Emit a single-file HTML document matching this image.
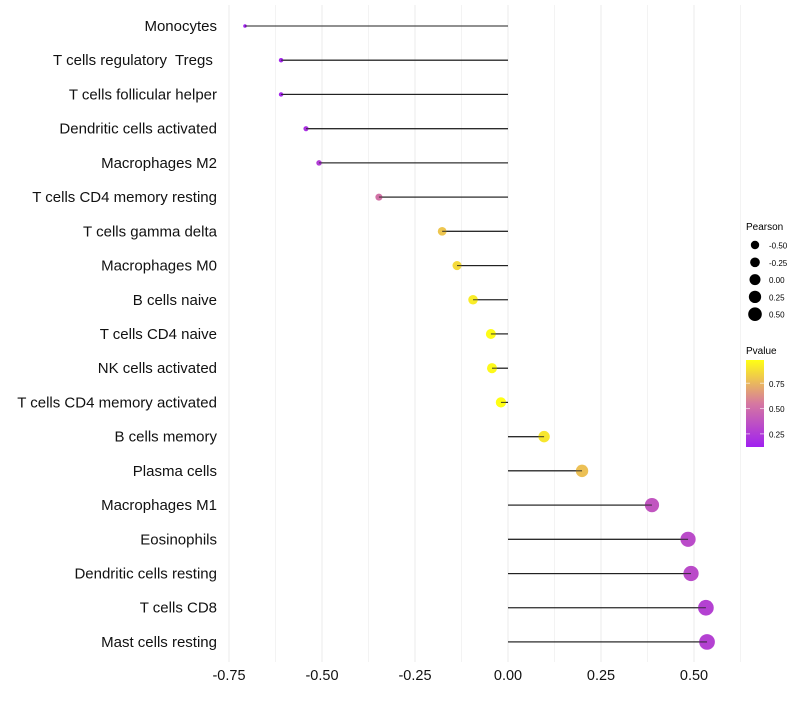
<!DOCTYPE html>
<html><head><meta charset="utf-8"><style>
body{margin:0;background:#fff;font-family:"Liberation Sans",sans-serif}
svg text{font-family:"Liberation Sans",sans-serif}
</style></head><body>
<svg id="c" width="800" height="700"></svg>
<script>
const categories=["Monocytes","T cells regulatory  Tregs ","T cells follicular helper","Dendritic cells activated","Macrophages M2","T cells CD4 memory resting","T cells gamma delta","Macrophages M0","B cells naive","T cells CD4 naive","NK cells activated","T cells CD4 memory activated","B cells memory","Plasma cells","Macrophages M1","Eosinophils","Dendritic cells resting","T cells CD8","Mast cells resting"];
const pearson=[-0.707,-0.61,-0.61,-0.543,-0.508,-0.347,-0.177,-0.137,-0.094,-0.046,-0.043,-0.019,0.097,0.199,0.387,0.484,0.492,0.532,0.535];
const pvalue=[0.12,0.14,0.14,0.2,0.26,0.52,0.8,0.86,0.92,0.97,0.96,0.99,0.9,0.78,0.38,0.33,0.33,0.28,0.28];
const xTicks=[-0.75,-0.5,-0.25,0,0.25,0.5];
const xTickLabels=["-0.75","-0.50","-0.25","0.00","0.25","0.50"];
const sizeLegend=[-0.5,-0.25,0,0.25,0.5];
const sizeLegendLabels=["-0.50","-0.25","0.00","0.25","0.50"];
const colorLegend=[0.25,0.5,0.75];
const colorLegendLabels=["0.25","0.50","0.75"];
const svg=document.getElementById('c');const NS="http://www.w3.org/2000/svg";
function el(t,a,p){const e=document.createElementNS(NS,t);for(const k in a)e.setAttribute(k,a[k]);(p||svg).appendChild(e);return e;}
const x=v=>508+v*372;
const y=i=>26+i*34.22;
const r=v=>1.7+(v+0.72)*4.9;
function col(p){const t=Math.max(0,Math.min(1,(p-0.12)/(0.98-0.12)));
const a=[160,32,240],m=[214,120,160],b=[255,255,20];let c;
if(t<0.5){const s=t*2;c=a.map((v,k)=>v+(m[k]-v)*s);}else{const s=(t-0.5)*2;c=m.map((v,k)=>v+(b[k]-v)*s);}
return `rgb(${c.map(Math.round).join(',')})`;}
for(let v=-0.75;v<=0.626;v+=0.125){const g=el('line',{x1:x(v),x2:x(v),y1:5,y2:662,stroke:'#ebebeb','stroke-width':Math.abs(v*8-Math.round(v*8))<1e-6&&Math.round(v*8)%2===0?1:0.6});
}
xTicks.forEach((v,i)=>{const t=el('text',{x:x(v),y:680,'text-anchor':'middle','font-size':14.5,fill:'#111'});t.textContent=xTickLabels[i];
});
categories.forEach((c,i)=>{
const t=el('text',{x:217,y:y(i)+5,'text-anchor':'end','font-size':15,fill:'#111','xml:space':'preserve'});t.style.whiteSpace='pre';t.textContent=c;

const l=el('line',{x1:x(0),x2:x(pearson[i]),y1:y(i),y2:y(i),stroke:'#222','stroke-width':1.1});

const d=el('circle',{cx:x(pearson[i]),cy:y(i),r:r(pearson[i]),fill:col(pvalue[i])});

const l2=el('line',{x1:x(0),x2:x(pearson[i]),y1:y(i),y2:y(i),stroke:'#222','stroke-width':1.1,opacity:0.8});

});
let t=el('text',{x:746,y:230,'font-size':10});t.textContent="Pearson";

sizeLegend.forEach((v,i)=>{const yy=245+i*17.3;
const c=el('circle',{cx:755,cy:yy,r:4.2+(v+0.5)*2.6,fill:'#000'});
const tt=el('text',{x:769,y:yy+3.5,'font-size':8});tt.textContent=sizeLegendLabels[i];
});
t=el('text',{x:746,y:354,'font-size':10});t.textContent="Pvalue";

const defs=el('defs',{});const lg=el('linearGradient',{id:'g',x1:0,y1:1,x2:0,y2:0},defs);
for(let k=0;k<=10;k++){const p=0.12+k*0.086;el('stop',{offset:k/10,'stop-color':col(p)},lg);}
const cb=el('rect',{x:746,y:360,width:18,height:87,fill:'url(#g)'});
const py=p=>447-(p-0.12)*(87/0.86);
colorLegend.forEach((p,i)=>{el('line',{x1:746,x2:750,y1:py(p),y2:py(p),stroke:'#fff','stroke-opacity':0.6});el('line',{x1:760,x2:764,y1:py(p),y2:py(p),stroke:'#fff','stroke-opacity':0.6});
const tt=el('text',{x:769,y:py(p)+3.5,'font-size':8});tt.textContent=colorLegendLabels[i];
});
</script>
</body></html>
